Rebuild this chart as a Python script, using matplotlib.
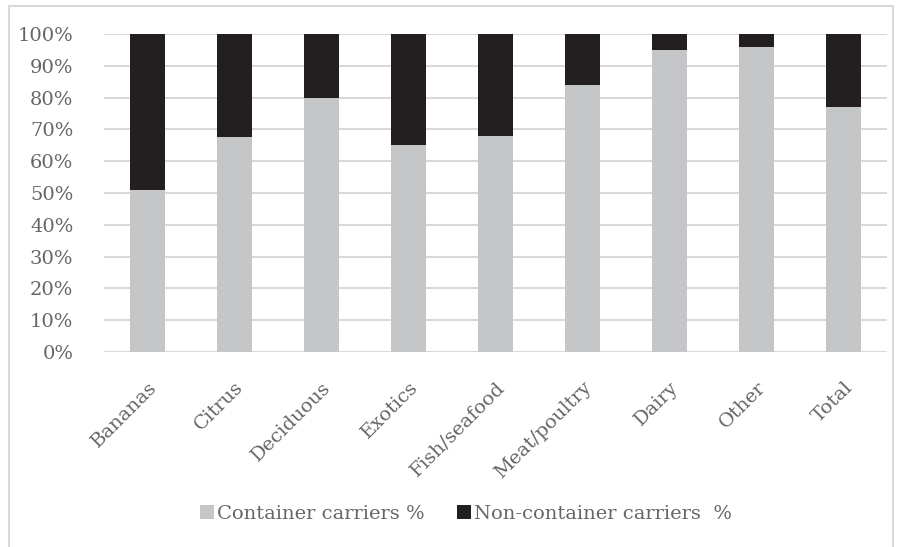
import matplotlib.pyplot as plt
from matplotlib.patches import Rectangle
from matplotlib.ticker import FuncFormatter

categories = ["Bananas", "Citrus", "Deciduous", "Exotics", "Fish/seafood",
              "Meat/poultry", "Dairy", "Other", "Total"]
container = [51, 67.5, 80, 65, 68, 84, 95, 96, 77]
non_container = [100 - v for v in container]
y_ticks = list(range(0, 101, 10))

W, H = 901, 547
fig = plt.figure(figsize=(W / 100, H / 100), dpi=100)
plt.rcParams['font.family'] = ['DejaVu Serif']

text_color = "#666666"
grid_color = "#d9d9d9"
light = "#c5c6c8"
dark = "#231f20"
fs = 14

# outer chart frame
fig.patches.append(Rectangle((9 / W, -0.01), (893 - 9) / W, (547 - 6) / H + 0.01,
                             transform=fig.transFigure, fill=False,
                             edgecolor=grid_color, linewidth=1.5))

left, right, top, bottom = 104, 887, 34, 352
ax = fig.add_axes([left / W, 1 - bottom / H, (right - left) / W, (bottom - top) / H])

x = range(len(categories))
ax.bar(x, container, width=0.4, color=light, zorder=3,
       label="Container carriers %")
ax.bar(x, non_container, bottom=container, width=0.4, color=dark, zorder=3,
       label="Non-container carriers  %")

ax.set_xlim(-0.5, len(categories) - 0.5)
ax.set_ylim(0, 100)
ax.set_yticks(y_ticks)
ax.yaxis.set_major_formatter(FuncFormatter(lambda v, p: f"{int(v)}%"))
ax.grid(axis="y", color=grid_color, linewidth=1.5, zorder=0)
for s in ax.spines.values():
    s.set_visible(False)
ax.tick_params(axis="both", length=0, colors=text_color, labelsize=fs)
ax.tick_params(axis="y", pad=22)
ax.set_xticks(list(x))
ax.set_xticklabels(categories, rotation=45, ha="right", rotation_mode="anchor",
                   fontsize=fs, color=text_color)
ax.tick_params(axis="x", pad=19)

leg = fig.legend(loc="center", bbox_to_anchor=(466 / W, 1 - 514 / H), ncol=2,
                 frameon=False, fontsize=fs, handlelength=0.7, handleheight=0.7,
                 handletextpad=0.15, columnspacing=1.7)
for t in leg.get_texts():
    t.set_color(text_color)

fig.savefig("out.png", dpi=100)
